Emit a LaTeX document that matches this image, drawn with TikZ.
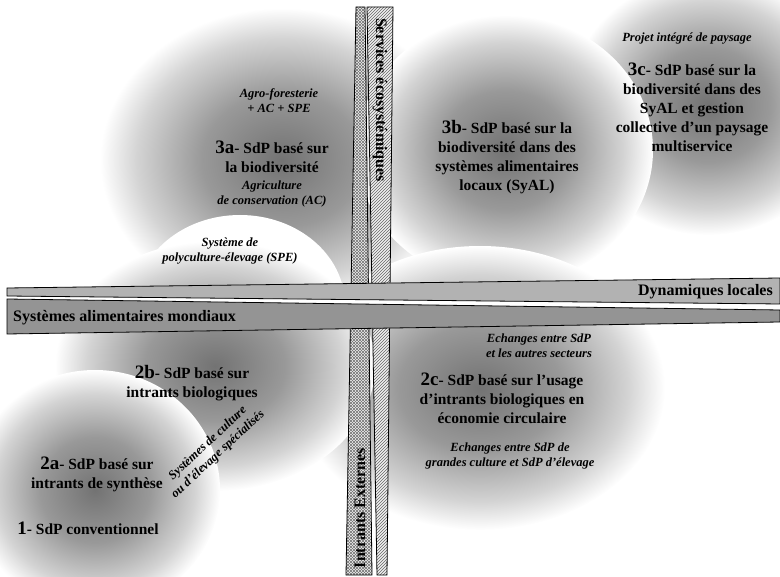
\documentclass[tikz,border=0pt]{standalone}
\usepackage{fontspec}
\setmainfont{Liberation Serif}
\usetikzlibrary{patterns}
\pgfdeclareradialshading{blob}{\pgfpoint{0bp}{0bp}}{color(0bp)=(black!55); color(11bp)=(black!40); color(20bp)=(black!17); color(25bp)=(white); color(50bp)=(white)}
\newcommand{\nb}[1]{{\fontsize{19}{19}\selectfont #1}}
\tikzset{
  halo/.style={shading=blob},
  sdp/.style={font=\fontsize{15.5}{19}\selectfont\bfseries, align=center, inner sep=0pt},
  remark/.style={font=\fontsize{12.5}{15}\selectfont\bfseries\itshape, align=center, inner sep=0pt},
  bartext/.style={font=\fontsize{16}{16}\selectfont\bfseries, inner sep=0pt},
  xhatch/.style={fill=black!6, postaction={pattern=north east lines, pattern color=black!55}, postaction={pattern=north west lines, pattern color=black!55}, postaction={draw=black, line width=0.8pt}},
  dhatch/.style={fill=black!6, postaction={pattern=north east lines, pattern color=black!60}, postaction={draw=black, line width=0.8pt}},
}
\begin{document}
\begin{tikzpicture}[x=1pt,y=-1pt]
\useasboundingbox (0,0) rectangle (780,577);
% halos
\begin{scope}
  \clip (0,0) rectangle (780,577);
  \shade[halo] (282,160) ellipse [x radius=182, y radius=152];
  \fill[white] (240,305) ellipse [x radius=105, y radius=90];
  \shade[halo] (708,105) ellipse [x radius=140, y radius=130];
  \shade[halo] (505,150) ellipse [x radius=148, y radius=135];
  \shade[halo] (480,388) ellipse [x radius=185, y radius=142];
  \shade[halo] (215,366) ellipse [x radius=160, y radius=125];
  \shade[halo] (95,490) ellipse [x radius=125, y radius=120];
\end{scope}
% vertical bars
\path[xhatch] (356,7) -- (365,7) -- (372,575) -- (346,575) -- cycle;
\path[dhatch] (367,7) -- (393,7) -- (387,575) -- (377,575) -- cycle;
% horizontal bars
\fill[white] (7,288) -- (780,278) -- (780,322) -- (7,334) -- cycle;
\draw[line width=0.8pt, fill=black!42] (7,299) -- (780,310) -- (780,322) -- (7,334) -- cycle;
\draw[line width=0.8pt, fill=black!30] (7,288) -- (780,278) -- (780,304) -- (7,296) -- cycle;
\node[bartext, anchor=east] (dyn) at (773,292) {Dynamiques locales};
\node[bartext, anchor=west] (mond) at (13,318) {Systèmes alimentaires mondiaux};
\node[bartext, rotate=-90] (serv) at (380,100) {Services écosystémiques};
\node[bartext, rotate=90] (intr) at (360,508) {Intrants Externes};
% texts
\node[remark] (n3c) at (687,39) {Projet intégré de paysage};
\node[sdp] (t3c) at (692,107) {\nb{3c}- SdP basé sur la\\biodiversité dans des\\SyAL et gestion\\collective d’un paysage\\multiservice};
\node[sdp] (t3b) at (507,157) {\nb{3b}- SdP basé sur la\\biodiversité dans des\\systèmes alimentaires\\locaux (SyAL)};
\node[remark] (n3aTop) at (279,101) {Agro-foresterie\\+ AC + SPE};
\node[sdp] (t3a) at (272,157) {\nb{3a}- SdP basé sur\\la biodiversité};
\node[remark] (n3aAC) at (272,194) {Agriculture\\de conservation (AC)};
\node[remark] (nSPE) at (230,251) {Système de\\polyculture-élevage (SPE)};
\node[remark] (n2cTop) at (539,346) {Echanges entre SdP\\et les autres secteurs};
\node[sdp] (t2c) at (502,398) {\nb{2c}- SdP basé sur l’usage\\d’intrants biologiques en\\économie circulaire};
\node[remark] (n2cBot) at (510,456) {Echanges entre SdP de\\grandes culture et SdP d’élevage};
\node[sdp] (t2b) at (192,383) {\nb{2b}- SdP basé sur\\intrants biologiques};
\node[remark, rotate=43] (nSpec) at (213,449) {Systèmes de culture\\ou d’élevage spécialisés};
\node[sdp] (t2a) at (97,474) {\nb{2a}- SdP basé sur\\intrants de synthèse};
\node[sdp] (t1) at (88,528) {\nb{1}- SdP conventionnel};
\end{tikzpicture}
\end{document}
